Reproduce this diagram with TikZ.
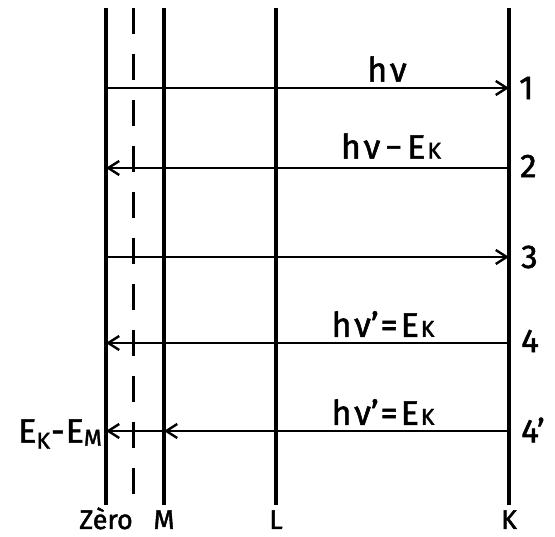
\documentclass[tikz,border=0pt]{standalone}
\usepackage{fontspec}
\setmainfont{Fira Sans}
\newfontfamily\hand{Fira Sans}[FakeBold=1.6]
\usetikzlibrary{arrows.meta}
\newcommand{\smk}{{\fontsize{23}{23}\selectfont K}}
\newcommand{\smm}{{\fontsize{23}{23}\selectfont M}}
\begin{document}
\begin{tikzpicture}[x=1pt,y=-1pt,
  level/.style={line width=3.4pt},
  dashlevel/.style={line width=3pt, dash pattern=on 26pt off 20pt, dash phase=0pt},
  ray/.style={line width=2.4pt},
  tip/.style={-{Straight Barb[length=11pt,width=14pt,line width=2.4pt]}},
  lbl/.style={font=\hand\fontsize{34}{36}\selectfont, inner sep=0pt},
  num/.style={font=\hand\fontsize{33}{35}\selectfont, inner sep=0pt, anchor=west},
  bot/.style={font=\hand\fontsize{27}{29}\selectfont, inner sep=0pt, anchor=base}]
\useasboundingbox (0,0) rectangle (555,537);
% vertical levels
\coordinate (z0) at (106,8);   \coordinate (z1) at (106,505);
\coordinate (d0) at (133,8);   \coordinate (d1) at (133,505);
\coordinate (m0) at (164,8);   \coordinate (m1) at (164,505);
\coordinate (l0) at (276,8);   \coordinate (l1) at (276,505);
\coordinate (k0) at (509,8);   \coordinate (k1) at (509,505);
\draw[level] (z0) -- (z1);
\draw[dashlevel] (d0) -- (d1);
\draw[level] (m0) -- (m1);
\draw[level] (l0) -- (l1);
\draw[level] (k0) -- (k1);
% row coordinates
\coordinate (a1) at (106,88);  \coordinate (b1) at (509,88);
\coordinate (a2) at (106,168); \coordinate (b2) at (509,168);
\coordinate (a3) at (106,257); \coordinate (b3) at (509,257);
\coordinate (a4) at (106,343); \coordinate (b4) at (509,343);
\coordinate (a5) at (106,431); \coordinate (c5) at (164,431); \coordinate (b5) at (509,431);
\draw[ray,tip] (a1) -- (b1);
\draw[ray,tip] (b2) -- (a2);
\draw[ray,tip] (a3) -- (b3);
\draw[ray,tip] (b4) -- (a4);
\draw[ray,tip] (b5) -- (c5);
\draw[ray,tip] (c5) -- (a5);
% labels
\node[lbl] (t1) at (387,69) {h\kern3pt ν};
\node[lbl] (t2) at (391,146) {h\kern3pt ν\kern5pt−\kern5pt E\kern2pt\smk};
\node[lbl] (t4) at (383,324) {h\kern3pt ν’\kern2pt=\kern3pt E\kern2pt\smk};
\node[lbl] (t5) at (383,412) {h\kern3pt ν’\kern2pt=\kern3pt E\kern2pt\smk};
\node[lbl, anchor=east] (t6) at (102,434) {E\raisebox{-6pt}{\smk}\kern1pt-\kern1pt E\raisebox{-3pt}{\smm}};
% numbers
\node[num] (n1) at (519,88) {1};
\node[num] (n2) at (520,166) {2};
\node[num] (n3) at (521,257) {3};
\node[num] (n4) at (521,341) {4};
\node[num] (n5) at (521,430) {4’};
% bottom names
\node[bot] (bz) at (106,529) {Zèro};
\node[bot] (bm) at (164,529) {M};
\node[bot] (bl) at (276,529) {L};
\node[bot] (bk) at (509,529) {K};
\end{tikzpicture}
\end{document}
